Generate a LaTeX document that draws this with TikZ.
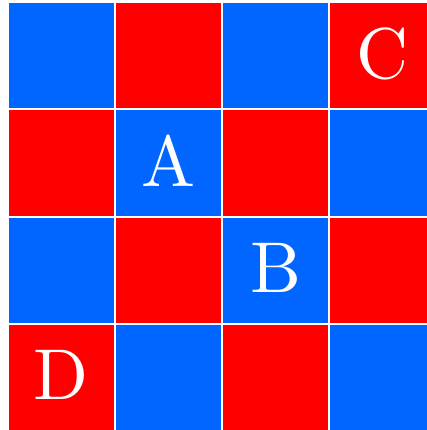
\documentclass[tikz,border=0pt]{standalone}
\usepackage{fontspec}
\usetikzlibrary{calc}
\newfontfamily\gridfont{lmroman10-regular}[Extension=.otf]
\definecolor{gridblue}{HTML}{0066FF}
\definecolor{gridred}{HTML}{FF0000}
\definecolor{gridtext}{HTML}{FFFFFF}
\tikzset{
  grid cell/.style={
    rectangle, draw=none, inner sep=0pt,
    minimum width=105pt, minimum height=105pt
  },
  grid letter/.style={
    text=gridtext, inner sep=0pt, yshift=2pt,
    font=\gridfont\fontsize{72}{72}\selectfont
  }
}
\begin{document}
\begin{tikzpicture}[x=1pt,y=1pt]
  \useasboundingbox (0,0) rectangle (427,-430);
  \clip (0,0) rectangle (427,-430);
  \fill[white] (0,0) rectangle (427,-430);

  \foreach \row in {0,...,3}{
    \foreach \col in {0,...,3}{
      \pgfmathtruncatemacro{\parity}{mod(\row+\col,2)}
      \ifnum\parity=0
        \def\cellcolor{gridblue}
      \else
        \def\cellcolor{gridred}
      \fi
      \node[grid cell,fill=\cellcolor] (cell-\row-\col)
        at ({61.5+107*\col},{-56+107*(-\row)}) {};
    }
  }

  \node[grid letter] (labelA) at (cell-1-1) {A};
  \node[grid letter] (labelB) at (cell-2-2) {B};
  \node[grid letter] (labelC) at (cell-0-3) {C};
  \node[grid letter] (labelD) at (cell-3-0) {D};
\end{tikzpicture}
\end{document}
